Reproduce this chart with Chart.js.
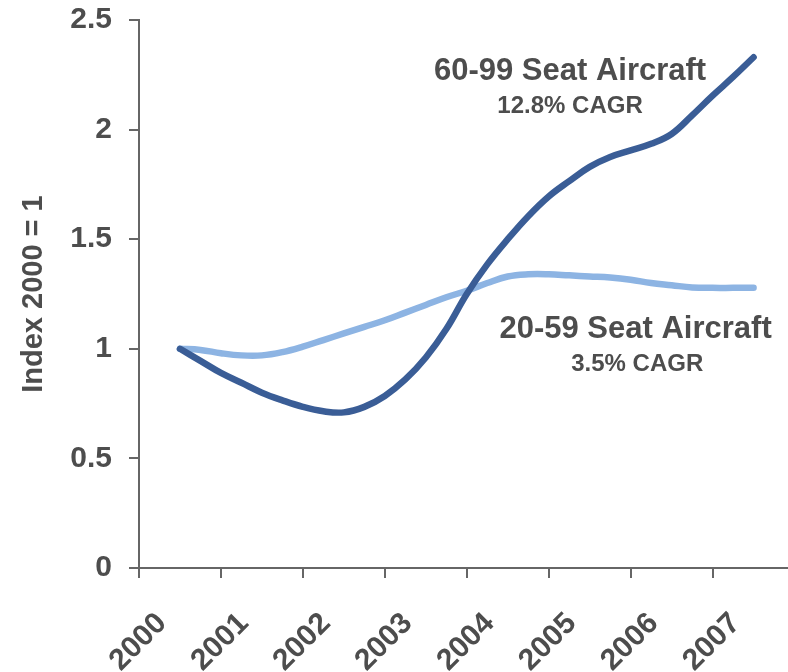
<!DOCTYPE html>
<html>
<head>
<meta charset="utf-8">
<script src="https://cdn.jsdelivr.net/npm/chart.js@4/dist/chart.umd.min.js"></script>
<style>
  html, body { margin: 0; padding: 0; background: #fff; }
  #chart1 { display: block; }
</style>
</head>
<body>
<canvas id="chart1" width="788" height="672"></canvas>
<script>
// Etiquetas de años (eje x)
const years = ['2000', '2001', '2002', '2003', '2004', '2005', '2006', '2007'];

// Posición de cada punto (trimestres)
const quarterPos = [
  2000, 2000.25, 2000.5, 2000.75, 2001, 2001.25, 2001.5, 2001.75,
  2002, 2002.25, 2002.5, 2002.75, 2003, 2003.25, 2003.5, 2003.75,
  2004, 2004.25, 2004.5, 2004.75, 2005, 2005.25, 2005.5, 2005.75,
  2006, 2006.25, 2006.5, 2006.75, 2007
];

// 60-99 asientos
const seats6099 = [
  1.00, 0.945, 0.89, 0.845, 0.80, 0.765, 0.735, 0.715,
  0.71, 0.735, 0.785, 0.86, 0.96, 1.09, 1.25, 1.385,
  1.50, 1.605, 1.695, 1.765, 1.83, 1.875, 1.905, 1.935,
  1.98, 2.065, 2.155, 2.24, 2.33
];

// 20-59 asientos
const seats2059 = [
  1.00, 0.995, 0.98, 0.97, 0.97, 0.985, 1.01, 1.04,
  1.07, 1.10, 1.13, 1.165, 1.20, 1.235, 1.265, 1.30,
  1.33, 1.34, 1.34, 1.335, 1.33, 1.325, 1.315, 1.30,
  1.29, 1.28, 1.278, 1.278, 1.278
];

const yTicks = [0, 0.5, 1, 1.5, 2, 2.5];

const textColor = '#4d4d4d';
const axisColor = '#666666';

// Textos dentro del gráfico
const notes = [
  { text: '60-99 Seat Aircraft', size: 31, x: 2004.76, y: 2.224 },
  { text: '12.8% CAGR', size: 24, x: 2004.76, y: 2.078 },
  { text: '20-59 Seat Aircraft', size: 31, x: 2005.56, y: 1.05 },
  { text: '3.5% CAGR', size: 24, x: 2005.58, y: 0.90 }
];

const notesPlugin = {
  id: 'notes',
  afterDatasetsDraw(chart) {
    const ctx = chart.ctx;
    const xs = chart.scales.x, ys = chart.scales.y;
    ctx.save();
    ctx.fillStyle = textColor;
    ctx.textAlign = 'center';
    ctx.textBaseline = 'alphabetic';
    notes.forEach(n => {
      ctx.font = 'bold ' + n.size + 'px "Liberation Sans", Arial, sans-serif';
      ctx.fillText(n.text, xs.getPixelForValue(n.x), ys.getPixelForValue(n.y));
    });
    ctx.restore();
  }
};

const toPoints = (vals) => vals.map((v, i) => ({ x: quarterPos[i], y: v }));

// ticks del eje x: límites entre años + centros con etiqueta
const xTicks = [];
years.forEach(y => {
  const n = parseInt(y, 10);
  xTicks.push({ value: n - 0.5 });
  xTicks.push({ value: n });
});

const ctx = document.getElementById('chart1').getContext('2d');
const chart = new Chart(ctx, {
  type: 'line',
  data: {
    datasets: [{
      label: '60-99 Seat Aircraft',
      data: toPoints(seats6099),
      borderColor: '#3a5d96',
      borderWidth: 6.5,
      borderCapStyle: 'round',
      borderJoinStyle: 'round',
      pointRadius: 0,
      tension: 0.4,
      fill: false
    }, {
      label: '20-59 Seat Aircraft',
      data: toPoints(seats2059),
      borderColor: '#8db4e3',
      borderWidth: 6.5,
      borderCapStyle: 'round',
      borderJoinStyle: 'round',
      pointRadius: 0,
      tension: 0.4,
      fill: false
    }]
  },
  options: {
    responsive: false,
    animation: false,
    layout: { padding: { top: 20, right: 0, left: 0, bottom: 0 } },
    plugins: {
      legend: { display: false },
      tooltip: { enabled: false }
    },
    scales: {
      x: {
        type: 'linear',
        min: 1999.5,
        max: 2007.42,
        afterBuildTicks: (axis) => { axis.ticks = xTicks.slice(); },
        afterFit: (axis) => {
          axis.height = 104;
          axis.paddingLeft = 0; axis.paddingRight = 0;
          axis.paddingTop = 0; axis.paddingBottom = 0;
        },
        border: { display: true, color: axisColor, width: 2 },
        grid: {
          drawOnChartArea: false,
          drawTicks: true,
          tickLength: 10,
          lineWidth: 2,
          color: (c) => (c.tick && c.tick.value % 1 !== 0) ? axisColor : 'rgba(0,0,0,0)'
        },
        ticks: {
          autoSkip: false,
          minRotation: 45,
          maxRotation: 45,
          padding: 28,
          labelOffset: -18,
          color: textColor,
          font: { family: '"Liberation Sans", Arial, sans-serif', size: 30, weight: 'bold' },
          callback: (value) => (value % 1 === 0 && years.includes(String(value))) ? String(value) : ''
        }
      },
      y: {
        min: 0,
        max: 2.5,
        afterBuildTicks: (axis) => { axis.ticks = yTicks.map(v => ({ value: v })); },
        afterFit: (axis) => {
          axis.width = 139;
          axis.paddingLeft = 0; axis.paddingRight = 0;
          axis.paddingTop = 0; axis.paddingBottom = 0;
        },
        border: { display: true, color: axisColor, width: 2 },
        grid: {
          drawOnChartArea: false,
          drawTicks: true,
          tickLength: 10,
          lineWidth: 2,
          color: axisColor
        },
        ticks: {
          padding: 17,
          color: textColor,
          font: { family: '"Liberation Sans", Arial, sans-serif', size: 30, weight: 'bold' },
          callback: (value) => String(value)
        },
        title: {
          display: true,
          text: 'Index 2000 = 1',
          color: textColor,
          padding: { top: 17, bottom: 0 },
          font: { family: '"Liberation Sans", Arial, sans-serif', size: 29, weight: 'bold' }
        }
      }
    }
  },
  plugins: [notesPlugin]
});
</script>
</body>
</html>
